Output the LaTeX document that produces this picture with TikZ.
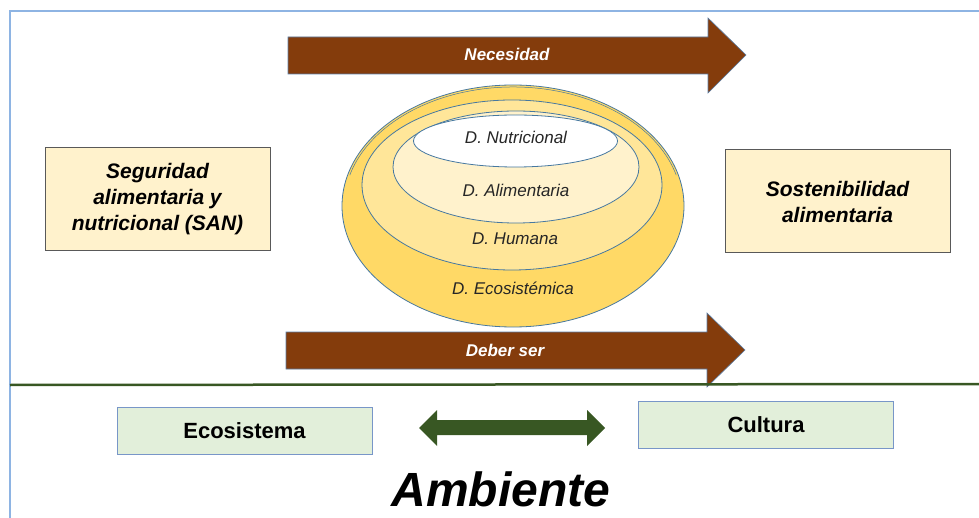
\documentclass[tikz,border=0pt]{standalone}
\usepackage{fontspec}
\setmainfont{Liberation Sans}
\usetikzlibrary{positioning}
\definecolor{frameblue}{RGB}{142,180,227}
\definecolor{brownarrow}{RGB}{132,60,12}
\definecolor{arrowedge}{RGB}{90,125,165}
\definecolor{gold1}{RGB}{255,217,102}
\definecolor{gold2}{RGB}{255,230,153}
\definecolor{gold3}{RGB}{255,242,204}
\definecolor{ringline}{RGB}{70,120,160}
\definecolor{boxfill}{RGB}{255,242,204}
\definecolor{greenfill}{RGB}{226,239,218}
\definecolor{greenline}{RGB}{56,87,35}
\definecolor{greenedge}{RGB}{120,150,200}
\begin{document}
\begin{tikzpicture}[x=1pt,y=-1pt,
  bigarrow/.style={fill=brownarrow,draw=arrowedge,line width=0.6pt},
  arrowlabel/.style={text=white,font=\fontsize{17}{20}\selectfont\bfseries\itshape},
  ring/.style={draw=ringline,line width=0.8pt},
  ringlabel/.style={font=\fontsize{17}{20}\selectfont\itshape,text=black!85},
  sidebox/.style={draw=black!65,line width=1pt,fill=boxfill,minimum width=225pt,minimum height=103pt,align=center,font=\fontsize{21}{26}\selectfont\bfseries\itshape,inner sep=0pt},
  envbox/.style={draw=greenedge,line width=0.8pt,fill=greenfill,minimum width=255pt,minimum height=47pt,font=\fontsize{22}{26}\selectfont\bfseries,inner sep=0pt}]
\useasboundingbox (0,0) rectangle (979,518);
% frame
\draw[frameblue,line width=1.5pt] (979,11) -- (10,11) -- (10,518);
% top arrow
\draw[bigarrow] (288,37) -- (708,37) -- (708,18) -- (746,55) -- (708,93) -- (708,74) -- (288,74) -- cycle;
\node[arrowlabel] (nec) at (507,54) {Necesidad};
% nested ellipses
\draw[ring,fill=gold1] (513,206) ellipse [x radius=171pt,y radius=121pt];
\draw[ring,line width=0.5pt] (513,206) ++(15:169pt and 119pt) arc [start angle=15,end angle=165,x radius=169pt,y radius=119pt];
\draw[ring,fill=gold2] (512,185) ellipse [x radius=150pt,y radius=85pt];
\draw[ring,fill=gold3] (516,167) ellipse [x radius=123pt,y radius=56pt];
\draw[ring,fill=white] (515.5,141) ellipse [x radius=102pt,y radius=26pt];
\node[ringlabel] (nut) at (516,137) {D. Nutricional};
\node[ringlabel] (ali) at (516,190) {D. Alimentaria};
\node[ringlabel] (hum) at (515,239) {D. Humana};
\node[ringlabel] (eco) at (513,288) {D. Ecosistémica};
% side boxes
\node[sidebox] (san) at (157.5,199.5) {Seguridad\\alimentaria y\\nutricional (SAN)};
\node[sidebox] (sos) at (837.5,201.5) {Sostenibilidad\\alimentaria};
% bottom arrow
\draw[bigarrow] (286,332) -- (707,332) -- (707,313) -- (745,350) -- (707,387) -- (707,369) -- (286,369) -- cycle;
\node[arrowlabel] (deb) at (505,350) {Deber ser};
% green separator
\draw[greenline,line width=2.5pt] (10,385) -- (979,384);
% environment boxes
\node[envbox] (ecos) at (244.5,431) {Ecosistema};
\node[envbox] (cul) at (766,424.5) {Cultura};
% double arrow
\fill[greenline] (419,428) -- (437,410) -- (437,420) -- (587,420) -- (587,410) -- (605,428) -- (587,446) -- (587,435) -- (437,435) -- (437,446) -- cycle;
\node[font=\fontsize{48}{52}\selectfont\bfseries\itshape] (amb) at (501,489) {Ambiente};
\end{tikzpicture}
\end{document}
